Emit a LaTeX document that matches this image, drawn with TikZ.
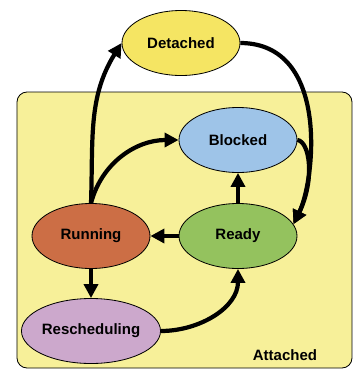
\documentclass[tikz,border=0pt]{standalone}
\usepackage{fontspec}
\setmainfont{Liberation Sans}
\usepackage{tikz}
\usetikzlibrary{shapes.geometric,arrows.meta}
\definecolor{boxyellow}{rgb}{0.97,0.94,0.60}
\definecolor{detyellow}{rgb}{0.96,0.90,0.39}
\definecolor{runred}{rgb}{0.80,0.43,0.27}
\definecolor{readygreen}{rgb}{0.58,0.76,0.37}
\definecolor{blockblue}{rgb}{0.62,0.77,0.91}
\definecolor{reschpink}{rgb}{0.80,0.66,0.80}

\tikzset{
  state/.style={ellipse, draw=black, line width=0.7pt, inner sep=0pt,
    minimum width=3.54cm, minimum height=1.95cm,
    font=\fontsize{12.8}{15}\selectfont\bfseries},
  flow/.style={line width=3.6pt, -{Triangle[length=0.42cm,width=0.42cm]}}
}

\begin{document}
\begin{tikzpicture}
\useasboundingbox (0,0) rectangle (10.62,-11.1);

% thread attached to the scheduler
\draw[fill=boxyellow, rounded corners=0.3cm, line width=0.7pt] (0.51,-2.76) rectangle (10.56,-11.04);
\node[font=\fontsize{12.8}{15}\selectfont\bfseries] (attached) at (8.55,-10.65) {Attached};

\node[state, fill=detyellow] (detached) at (5.43,-1.29) {Detached};
\node[state, fill=blockblue] (blocked) at (7.14,-4.2) {Blocked};
\node[state, fill=runred] (running) at (2.73,-7.08) {Running};
\node[state, fill=readygreen] (ready) at (7.14,-7.08) {Ready};
\node[state, fill=reschpink] (resched) at (2.73,-9.93) {Rescheduling};

\draw[flow] (running.north) to[out=88,in=238] (detached.west);
\draw[flow] (running.north) to[out=75,in=180] (blocked.west);
\draw[flow] (detached.east) .. controls (9.9,-1.3) and (9.45,-5.4) .. (ready.12);
\draw[flow] (blocked.east) .. controls (9.3,-4.25) and (9.45,-5.4) .. (ready.12);
\draw[flow] (ready.north) -- (blocked.south);
\draw[flow] (ready.west) -- (running.east);
\draw[flow] (running.south) -- (resched.north);
\draw[flow] (resched.east) to[out=0,in=-90] (ready.south);
\end{tikzpicture}
\end{document}
